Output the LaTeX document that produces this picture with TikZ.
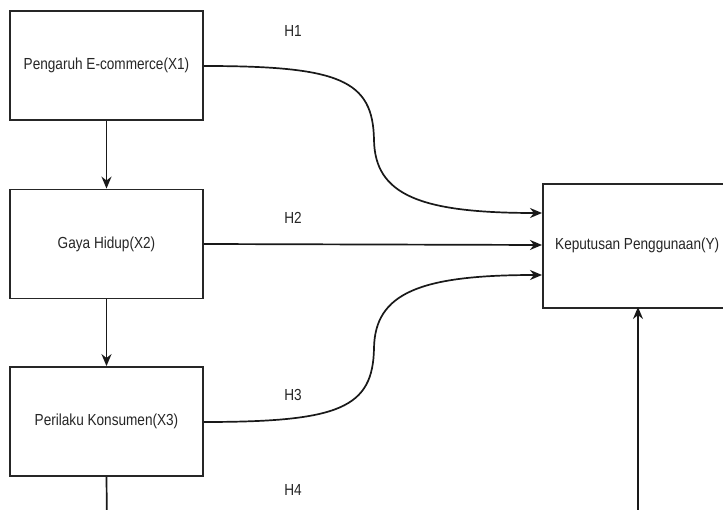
\documentclass[tikz,border=0pt]{standalone}
\usepackage{fontspec}
\setmainfont{Liberation Sans}
\newfontfamily\narrowfont[FakeStretch=0.85]{Liberation Sans}
\usetikzlibrary{arrows.meta}
\begin{document}
\begin{tikzpicture}[x=1pt,y=-1pt,
  box/.style={draw=black!85, line width=1.8pt, minimum width=193pt, minimum height=109pt, inner sep=0pt, font=\narrowfont\fontsize{16}{18}\selectfont, text=black!85},
  conn/.style={draw=black!90, line width=1.7pt, -{Stealth[length=12pt,width=10pt]}},
  lbl/.style={font=\narrowfont\fontsize{16}{18}\selectfont, text=black!85}]
\useasboundingbox (0,0) rectangle (723,510);
\clip (0,0) rectangle (723,510);
\fill[white] (0,0) rectangle (723,510);
\node[box] (x1) at (106.5,65.5) {Pengaruh E-commerce(X1)};
\node[box] (x2) at (106.5,244) {Gaya Hidup(X2)};
\node[box] (x3) at (106.5,421.5) {Perilaku Konsumen(X3)};
\node[box, minimum width=220pt, minimum height=124pt, anchor=north west] (y) at (542,183) {};
\node[lbl, anchor=west, inner sep=0pt] (yt) at (555,245) {Keputusan Penggunaan(Y)};
\coordinate (ytop) at (542,213);
\coordinate (ymid) at (542,245);
\coordinate (ybot) at (542,275);
\coordinate (x3down) at (107,530);
\coordinate (ycorner) at (638,530);
\coordinate (yin) at (638,307);
\draw[conn] (x1) -- (x2);
\draw[conn] (x2) -- (x3);
\draw[conn] (x1.east |- 0,66) .. controls (340,66) and (373,80) .. (374,140) .. controls (375,195) and (420,213) .. (ytop);
\draw[conn] (x2.east) -- (ymid);
\draw[conn] (x3.east |- 0,422) .. controls (340,422) and (373,408) .. (374,348) .. controls (375,293) and (420,275) .. (ybot);
\draw[conn] (x3.south) -- (x3down) -- (ycorner) -- (yin);
\node[lbl] (h1) at (293,31) {H1};
\node[lbl] (h2) at (293,218) {H2};
\node[lbl] (h3) at (293,395) {H3};
\node[lbl] (h4) at (293,490) {H4};
\end{tikzpicture}
\end{document}
